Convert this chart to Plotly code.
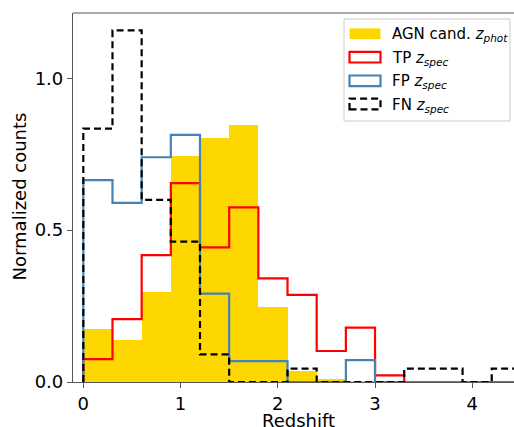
import plotly.graph_objects as go

# ---------------- data ----------------
bin_edges = [0.0, 0.3, 0.6, 0.9, 1.2, 1.5, 1.8, 2.1, 2.4, 2.7, 3.0, 3.3, 3.6, 3.9, 4.2, 4.5]
agn_phot = [0.175, 0.139, 0.297, 0.744, 0.803, 0.845, 0.248, 0.036, 0.009, 0.003, 0, 0, 0, 0, 0]
tp_spec = [0.075, 0.207, 0.418, 0.655, 0.443, 0.575, 0.341, 0.287, 0.102, 0.179, 0.022, 0, 0, 0, 0]
fp_spec = [0.665, 0.590, 0.740, 0.814, 0.291, 0.069, 0.069, 0, 0, 0.072, 0, 0, 0, 0, 0]
fn_spec = [0.834, 1.158, 0.600, 0.462, 0.091, 0, 0, 0.044, 0, 0, 0, 0.044, 0.044, 0, 0.044]
x_ticks = [0, 1, 2, 3, 4]
y_ticks = [0.0, 0.5, 1.0]
labels = ["AGN cand. <i>z</i><sub><i>phot</i></sub>",
          "TP <i>z</i><sub><i>spec</i></sub>",
          "FP <i>z</i><sub><i>spec</i></sub>",
          "FN <i>z</i><sub><i>spec</i></sub>"]
x_title = "Redshift"
y_title = "Normalized counts"

GOLD = "#FFD700"
RED = "#FF0000"
BLUE = "#4682B4"
BLACK = "#000000"
SPINE = "#555555"
FONT = "DejaVu Sans"

W, H = 514, 427
ML, MT, MR, MB = 73, 13, 0, 45


def step_path(edges, vals):
    xs, ys = [edges[0]], [0]
    for i, v in enumerate(vals):
        xs += [edges[i], edges[i + 1]]
        ys += [v, v]
    xs.append(edges[-1])
    ys.append(0)
    return xs, ys


fig = go.Figure()

centers = [(bin_edges[i] + bin_edges[i + 1]) / 2 for i in range(len(agn_phot))]
widths = [bin_edges[i + 1] - bin_edges[i] for i in range(len(agn_phot))]
fig.add_trace(go.Bar(x=centers, y=agn_phot, width=widths, marker=dict(color=GOLD, line=dict(width=0)),
                     showlegend=False, hoverinfo="skip"))

for vals, col, dash in [(tp_spec, RED, "solid"), (fp_spec, BLUE, "solid"), (fn_spec, BLACK, "7px,4px")]:
    xs, ys = step_path(bin_edges, vals)
    fig.add_trace(go.Scatter(x=xs, y=ys, mode="lines", line=dict(color=col, width=2.2, dash=dash),
                             showlegend=False, hoverinfo="skip"))

# ---------------- manual legend (pixel layout -> paper) ----------------
pw = W - ML - MR
ph = H - MT - MB


def px(x):
    return (x - ML) / pw


def py(y):
    return (H - MB - y) / ph


shapes = []
annotations = []
# legend frame
shapes.append(dict(type="rect", xref="paper", yref="paper", x0=px(344), x1=px(510), y0=py(121), y1=py(19),
                   line=dict(color="#cccccc", width=1), fillcolor="rgba(255,255,255,0.8)", layer="above"))
row_y = [33.7, 57.2, 80.8, 104.0]
styles = [dict(fill=GOLD, line=dict(width=0)),
          dict(fill="white", line=dict(color=RED, width=2.2)),
          dict(fill="white", line=dict(color=BLUE, width=2.2)),
          dict(fill="white", line=dict(color=BLACK, width=2.2, dash="7px,4px"))]
for yc, st, lab in zip(row_y, styles, labels):
    shapes.append(dict(type="rect", xref="paper", yref="paper", x0=px(349.5), x1=px(380.5),
                       y0=py(yc + 5.3), y1=py(yc - 5.3), fillcolor=st["fill"], line=st["line"], layer="above"))
    annotations.append(dict(xref="paper", yref="paper", x=px(390), y=py(yc + 1), text=lab, showarrow=False,
                            xanchor="left", yanchor="middle", font=dict(family=FONT, size=15, color="black")))

# axis titles
annotations.append(dict(xref="paper", yref="paper", x=px(298), y=py(408), text=x_title, showarrow=False,
                        xanchor="center", yanchor="top", font=dict(family=FONT, size=18, color="black")))
annotations.append(dict(xref="paper", yref="paper", x=px(19), y=py(196.5), text=y_title, showarrow=False,
                        textangle=-90, xanchor="center", yanchor="middle",
                        font=dict(family=FONT, size=18, color="black")))

# top spine
shapes.append(dict(type="line", xref="paper", yref="paper", x0=0, x1=1, y0=1, y1=1,
                   line=dict(color=SPINE, width=1.2), layer="above"))

fig.update_layout(
    width=W, height=H,
    margin=dict(l=ML, r=MR, t=MT, b=MB, pad=0, autoexpand=False),
    paper_bgcolor="white", plot_bgcolor="white",
    bargap=0, showlegend=False,
    font=dict(family=FONT, size=18, color="black"),
    shapes=shapes, annotations=annotations,
    xaxis=dict(range=[-0.106, 4.429], tickvals=x_ticks, ticks="outside", ticklen=5, tickwidth=1.2,
               tickcolor=SPINE, showline=True, linecolor=SPINE, linewidth=1.2, mirror=False,
               showgrid=False, zeroline=False, tickfont=dict(size=18), automargin=False),
    yaxis=dict(range=[0, 1.215], tickvals=y_ticks, tickformat=".1f", ticks="outside", ticklen=5,
               tickwidth=1.2, tickcolor=SPINE, showline=True, linecolor=SPINE, linewidth=1.2,
               mirror=False, showgrid=False, zeroline=False, tickfont=dict(size=18), automargin=False),
)

fig.write_html("out.html")
